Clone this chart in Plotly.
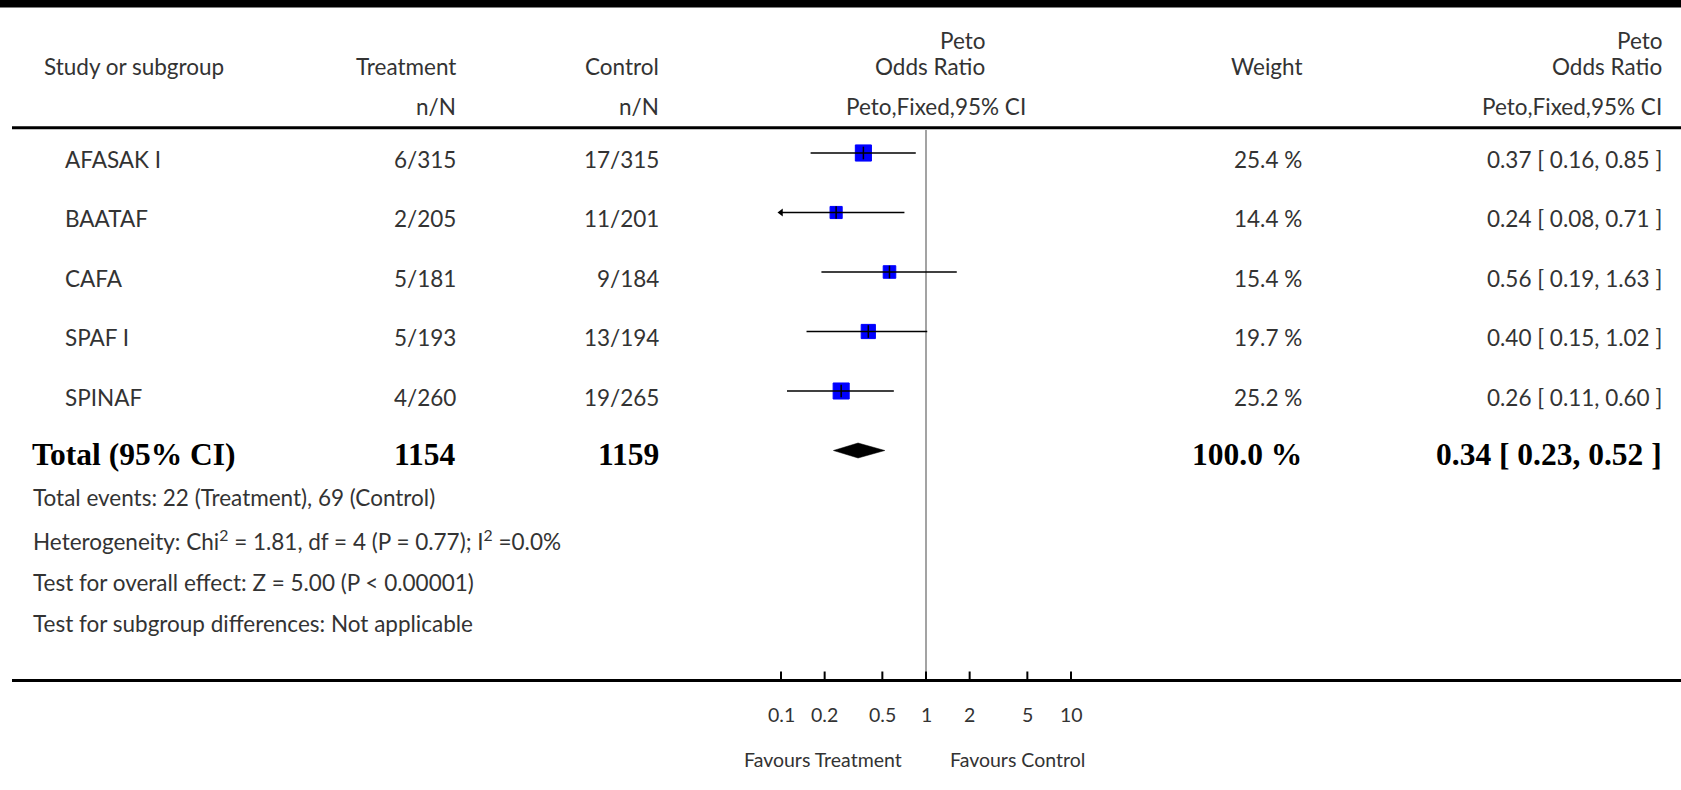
import math
import plotly.graph_objects as go

# ---------------- data ----------------
studies = ["AFASAK I", "BAATAF", "CAFA", "SPAF I", "SPINAF"]
treat_events = [6, 2, 5, 5, 4]
treat_total = [315, 205, 181, 193, 260]
ctrl_events = [17, 11, 9, 13, 19]
ctrl_total = [315, 201, 184, 194, 265]
weights = [25.4, 14.4, 15.4, 19.7, 25.2]
or_est = [0.37, 0.24, 0.56, 0.40, 0.26]
or_lo = [0.16, 0.08, 0.19, 0.15, 0.11]
or_hi = [0.85, 0.71, 1.63, 1.02, 0.60]

total_label = "Total (95% CI)"
total_treat = 1154
total_ctrl = 1159
total_weight = 100.0
total_est, total_lo, total_hi = 0.34, 0.23, 0.52

footer_lines = [
    "Total events: 22 (Treatment), 69 (Control)",
    "Heterogeneity: Chi<sup>2</sup> = 1.81, df = 4 (P = 0.77); I<sup>2</sup> =0.0%",
    "Test for overall effect: Z = 5.00 (P &lt; 0.00001)",
    "Test for subgroup differences: Not applicable",
]
tick_vals = [0.1, 0.2, 0.5, 1, 2, 5, 10]
tick_text = ["0.1", "0.2", "0.5", "1", "2", "5", "10"]
favours = ["Favours Treatment", "Favours Control"]

# ---------------- layout geometry (pixels) ----------------
W, H = 1681, 790
X1PX, DEC = 926.0, 145.0          # pixel of OR = 1, pixels per decade
ROW0, ROWH = 153.0, 59.5          # pixel of first row, row spacing
AXIS_Y = 680.5

xr = [(0 - X1PX) / DEC, (W - X1PX) / DEC]
yr = [(H - ROW0) / ROWH, (0 - ROW0) / ROWH]


def py(p):
    return 1 - p / H


def px(p):
    return p / W


REG = dict(family="Lato", size=22.5, color="#333333")
SMALL = dict(family="Lato", size=19.5, color="#333333")
BOLD = dict(family="Liberation Serif", size=31.5, color="#000000")

fig = go.Figure()

rows = list(range(len(studies)))
total_row = len(studies)
lo_lim, hi_lim = tick_vals[0], tick_vals[-1]

# squares
fig.add_trace(go.Scatter(
    x=or_est, y=rows, mode="markers",
    marker=dict(symbol="square", size=[3.2 * math.sqrt(w) for w in weights],
                color="#0000ff", opacity=1, line=dict(width=1, color="#0000ff")),
    hoverinfo="skip"))

# CI lines (clipped to scale)
cx, cy = [], []
for r, lo, hi in zip(rows, or_lo, or_hi):
    cx += [max(lo, lo_lim), min(hi, hi_lim), None]
    cy += [r, r, None]
fig.add_trace(go.Scatter(x=cx, y=cy, mode="lines",
                         line=dict(color="black", width=1.6), hoverinfo="skip"))

# point-estimate ticks
fig.add_trace(go.Scatter(
    x=or_est, y=rows, mode="markers",
    marker=dict(symbol="line-ns", size=9, line=dict(color="black", width=1.5)),
    hoverinfo="skip"))

# arrows for clipped CIs
ax_, ay_ = [], []
for r, lo in zip(rows, or_lo):
    if lo < lo_lim:
        ax_.append(lo_lim)
        ay_.append(r)
fig.add_trace(go.Scatter(
    x=ax_, y=ay_, mode="markers",
    marker=dict(symbol="triangle-left", size=7, color="black", line=dict(width=0)),
    hoverinfo="skip"))

# diamond
hd = 7.5 / ROWH
fig.add_trace(go.Scatter(
    x=[total_lo, total_est, total_hi, total_est, total_lo],
    y=[total_row, total_row - hd, total_row, total_row + hd, total_row],
    mode="lines", fill="toself", fillcolor="black",
    line=dict(color="black", width=0.5), hoverinfo="skip"))

shapes = []
# top black band
shapes.append(dict(type="rect", xref="paper", yref="paper", x0=0, x1=1,
                   y0=py(7.5), y1=1, fillcolor="black", line=dict(width=0), layer="above"))
# header & bottom rules
for yy in (127.7, AXIS_Y):
    shapes.append(dict(type="line", xref="paper", yref="paper", x0=px(12), x1=1,
                       y0=py(yy), y1=py(yy), line=dict(color="black", width=3)))
# reference line at OR = 1
shapes.append(dict(type="line", xref="x", yref="paper", x0=1, x1=1,
                   y0=py(130), y1=py(AXIS_Y), line=dict(color="#8c8c8c", width=1.6),
                   layer="below"))
# axis ticks
for tv in tick_vals:
    shapes.append(dict(type="line", xref="x", yref="paper", x0=tv, x1=tv,
                       y0=py(AXIS_Y), y1=py(AXIS_Y - 9), line=dict(color="black", width=2)))

ann = []


def txt(xp, yp, s, anchor, font):
    ann.append(dict(x=px(xp), y=py(yp), xref="paper", yref="paper", text=s,
                    showarrow=False, xanchor=anchor, yanchor="middle", font=font))


def rtxt(xp, r, s, anchor, font, shift=-6):
    ann.append(dict(x=px(xp), y=r, xref="paper", yref="y", text=s, yshift=shift,
                    showarrow=False, xanchor=anchor, yanchor="middle", font=font))


# header
txt(41.5, 66.5, "Study or subgroup", "left", REG)
txt(458, 66.5, "Treatment", "right", REG)
txt(661, 66.5, "Control", "right", REG)
txt(987, 40, "Peto", "right", REG)
txt(987, 66.5, "Odds Ratio", "right", REG)
txt(1304, 66.5, "Weight", "right", REG)
txt(1664, 40, "Peto", "right", REG)
txt(1664, 66.5, "Odds Ratio", "right", REG)
txt(458, 106, "n/N", "right", REG)
txt(661, 106, "n/N", "right", REG)
txt(1028, 106, "Peto,Fixed,95% CI", "right", REG)
txt(1664, 106, "Peto,Fixed,95% CI", "right", REG)

# study rows
for i, s in enumerate(studies):
    rtxt(63, i, s, "left", REG)
    rtxt(458, i, f"{treat_events[i]}/{treat_total[i]}", "right", REG)
    rtxt(661, i, f"{ctrl_events[i]}/{ctrl_total[i]}", "right", REG)
    rtxt(1304, i, f"{weights[i]:.1f} %", "right", REG)
    rtxt(1664, i, f"{or_est[i]:.2f} [ {or_lo[i]:.2f}, {or_hi[i]:.2f} ]", "right", REG)

# total row
rtxt(30, total_row, f"<b>{total_label}</b>", "left", BOLD, shift=-4)
rtxt(458, total_row, f"<b>{total_treat}</b>", "right", BOLD, shift=-4)
rtxt(661, total_row, f"<b>{total_ctrl}</b>", "right", BOLD, shift=-4)
rtxt(1304, total_row, f"<b>{total_weight:.1f} %</b>", "right", BOLD, shift=-4)
rtxt(1664, total_row, f"<b>{total_est:.2f} [ {total_lo:.2f}, {total_hi:.2f} ]</b>",
     "right", BOLD, shift=-4)

# footer
for yy, s in zip([497, 539.5, 582, 623], footer_lines):
    txt(31, yy, s, "left", REG)

# tick labels (annotation x on a log axis is given in log10 units)
for tv, tt in zip(tick_vals, tick_text):
    ann.append(dict(x=math.log10(tv), y=py(714), xref="x", yref="paper", text=tt,
                    showarrow=False, xanchor="center", yanchor="middle", font=SMALL))
# favours labels
ann.append(dict(x=math.log10(1), y=py(759), xref="x", yref="paper", text=favours[0],
                showarrow=False, xanchor="right", xshift=-22, yanchor="middle", font=SMALL))
ann.append(dict(x=math.log10(1), y=py(759), xref="x", yref="paper", text=favours[1],
                showarrow=False, xanchor="left", xshift=22, yanchor="middle", font=SMALL))

fig.update_layout(
    width=W, height=H, autosize=False,
    margin=dict(l=0, r=0, t=0, b=0, pad=0),
    paper_bgcolor="white", plot_bgcolor="white",
    showlegend=False,
    xaxis=dict(type="log", range=xr, domain=[0, 1], visible=False, fixedrange=True),
    yaxis=dict(range=yr, domain=[0, 1], visible=False, fixedrange=True),
    shapes=shapes, annotations=ann,
)

fig.write_html("out.html", config={"displayModeBar": False})
